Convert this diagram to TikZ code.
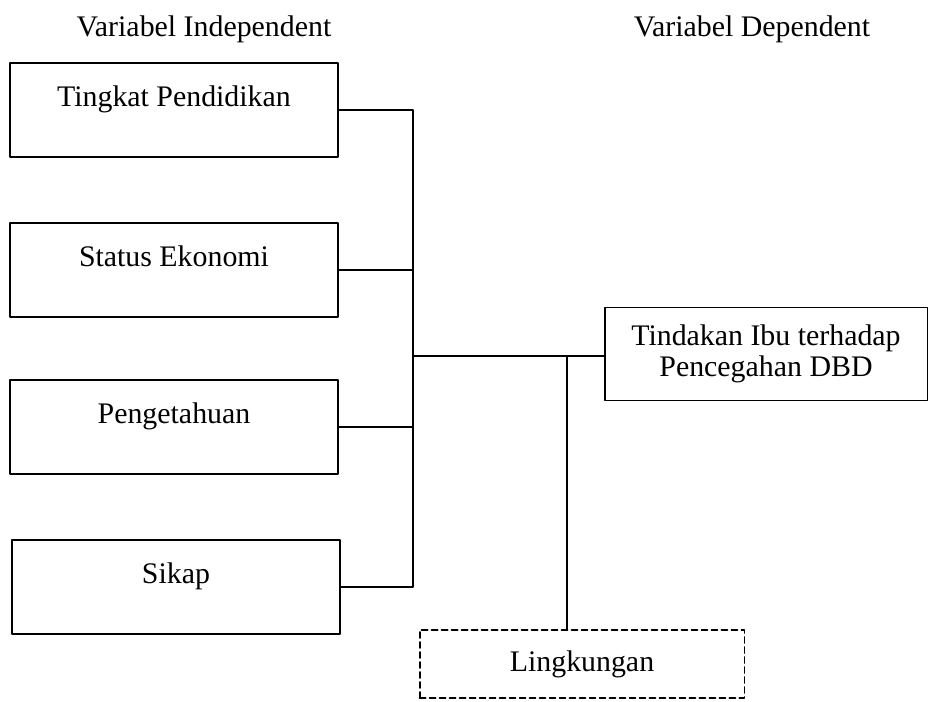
\documentclass[tikz,border=0pt]{standalone}
\usepackage{fontspec}
\setmainfont{Liberation Serif}
\usetikzlibrary{positioning}

\begin{document}
\begin{tikzpicture}[x=0.02cm, y=-0.02cm, line cap=round, line join=round,
  varbox/.style={draw, line width=1.1pt, minimum width=6.56cm, minimum height=1.88cm,
    inner sep=0pt, text height=0.45cm, text depth=0.6cm},
  depbox/.style={draw, line width=1.1pt, minimum width=6.46cm, minimum height=1.86cm,
    align=center, inner sep=0pt},
  envbox/.style={draw, line width=1.1pt, dash pattern=on 0.12cm off 0.08cm,
    minimum width=6.5cm, minimum height=1.36cm, inner sep=0pt},
  wire/.style={line width=0.9pt}]
  \useasboundingbox (0,0) rectangle (931,701);
  \fontsize{17}{20}\selectfont

  % --- Judul ---
  \node (indep) at (204,29) {Variabel Independent};
  \node (dep) at (752,29) {Variabel Dependent};

  % --- Variabel independen ---
  \node[varbox] (pend)  at (174,110) {Tingkat Pendidikan};
  \node[varbox] (ekon)  at (174,270) {Status Ekonomi};
  \node[varbox] (peng)  at (174,427) {Pengetahuan};
  \node[varbox] (sikap) at (176,587) {Sikap};

  % --- Variabel dependen dan lingkungan ---
  \node[depbox] (tind) at (766,354) {Tindakan Ibu terhadap\\[-2pt]Pencegahan DBD};
  \node[envbox] (lingk) at (582,664) {Lingkungan};

  % --- Titik cabang ---
  \coordinate (bus) at (413,356);
  \coordinate (tap) at (567,356);

  % --- Garis penghubung ---
  \draw[wire] (pend.east) -| (bus);
  \draw[wire] (sikap.east) -| (bus);
  \draw[wire] (ekon.east) -- (ekon.east -| bus);
  \draw[wire] (peng.east) -- (peng.east -| bus);
  \draw[wire] (bus) -- (bus -| tind.west);
  \draw[wire] (tap) -- (tap |- lingk.north);
\end{tikzpicture}
\end{document}
